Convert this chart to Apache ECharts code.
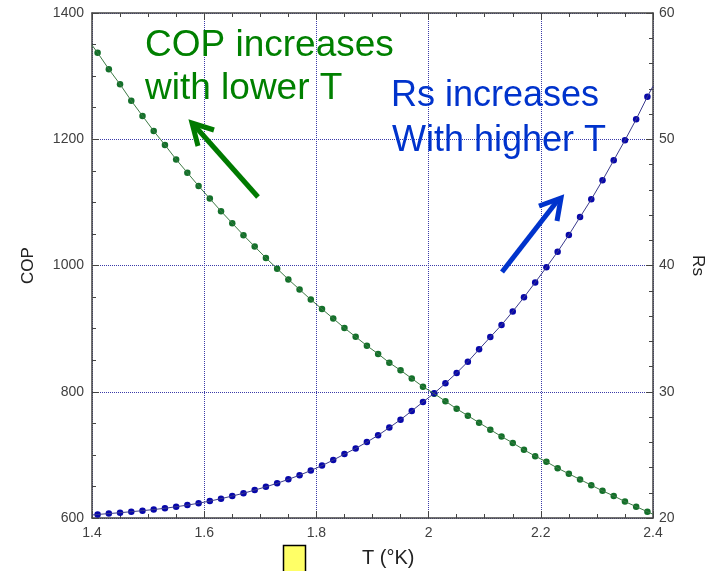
<!DOCTYPE html>
<html>
<head>
	<meta charset="UTF-8">
	<title>COP and Rs vs T</title>
	<script src="https://cdn.jsdelivr.net/npm/echarts@6/dist/echarts.min.js"></script>
</head>
<body style="margin:0;background:#fff;">
	<div id="main" style="width:716px;height:571px;"></div>
	<script>
		// temperature of the plotted dots (K)
		var tDots = [1.41, 1.43, 1.45, 1.47, 1.49, 1.51, 1.53, 1.55, 1.57, 1.59,
			1.61, 1.63, 1.65, 1.67, 1.69, 1.71, 1.73, 1.75, 1.77, 1.79,
			1.81, 1.83, 1.85, 1.87, 1.89, 1.91, 1.93, 1.95, 1.97, 1.99,
			2.01, 2.03, 2.05, 2.07, 2.09, 2.11, 2.13, 2.15, 2.17, 2.19,
			2.21, 2.23, 2.25, 2.27, 2.29, 2.31, 2.33, 2.35, 2.37, 2.39];
		var copDots = [1337, 1311, 1287, 1261, 1237, 1213, 1191, 1168, 1147, 1126,
			1106, 1086, 1067, 1048, 1030, 1012, 995, 978, 962, 946,
			931, 916, 901, 887, 873, 860, 846, 834, 821, 808,
			797, 785, 773, 762, 751, 740, 729, 719, 708, 698,
			689, 679, 670, 661, 652, 643, 635, 626, 618, 610];
		var rsDots = [20.28, 20.35, 20.42, 20.50, 20.58, 20.67, 20.77, 20.89, 21.02, 21.17,
			21.34, 21.53, 21.74, 21.96, 22.21, 22.47, 22.75, 23.06, 23.39, 23.76,
			24.15, 24.59, 25.06, 25.51, 26.01, 26.55, 27.16, 27.79, 28.48, 29.19,
			29.88, 30.67, 31.49, 32.38, 33.36, 34.33, 35.29, 36.36, 37.48, 38.66,
			39.86, 41.09, 42.42, 43.84, 45.24, 46.75, 48.33, 49.92, 51.58, 53.37];
		// the thin curves run to the frame edges
		var tEnds = [1.4, 2.4];
		var copEnds = [1349, 606];
		var rsEnds = [20.24, 54.2];

		var pairs = function(xs, ys) {
			var res = [];
			for (var i = 0; i < xs.length; i++) {
				res.push([xs[i], ys[i]]);
			}
			return res;
		};
		var curve = function(ys, ends) {
			return [[tEnds[0], ends[0]]].concat(pairs(tDots, ys)).concat([[tEnds[1], ends[1]]]);
		};

		var axisColor = '#444';
		var gridColor = '#3a3aa8';
		var labelStyle = {
			color: '#404040', fontSize: 14, fontFamily: 'Liberation Sans',
			formatter: function(v) { return String(v); }
		};

		var myChart = echarts.init(document.getElementById('main'));
		var option = {
			animation: false,
			backgroundColor: '#fff',
			grid: { left: 92, right: 63, top: 13, bottom: 53 },
			xAxis: [{
				type: 'value', position: 'bottom', min: 1.4, max: 2.4, interval: 0.2,
				axisLine: { lineStyle: { color: axisColor, width: 1.5 } },
				axisTick: { inside: true, length: 7, lineStyle: { color: axisColor } },
				minorTick: { show: true, splitNumber: 4, length: 4, lineStyle: { color: axisColor } },
				axisLabel: Object.assign({ margin: 8 }, labelStyle),
				splitLine: { show: true, lineStyle: { color: gridColor, type: 'dotted', width: 1 } }
			}, {
				type: 'value', position: 'top', min: 1.4, max: 2.4, interval: 0.2,
				axisLine: { lineStyle: { color: axisColor, width: 1.5 } },
				axisTick: { inside: true, length: 7, lineStyle: { color: axisColor } },
				minorTick: { show: true, splitNumber: 4, length: 4, lineStyle: { color: axisColor } },
				axisLabel: { show: false },
				splitLine: { show: false }
			}],
			yAxis: [{
				type: 'value', position: 'left', min: 600, max: 1400, interval: 200,
				name: 'COP', nameLocation: 'middle', nameGap: 55,
				nameTextStyle: { color: '#222', fontSize: 17, fontFamily: 'Liberation Sans' },
				axisLine: { show: true, lineStyle: { color: axisColor, width: 1.5 } },
				axisTick: { show: true, inside: true, length: 7, lineStyle: { color: axisColor } },
				minorTick: { show: true, splitNumber: 4, length: 4, lineStyle: { color: axisColor } },
				axisLabel: Object.assign({ margin: 8 }, labelStyle),
				splitLine: { show: true, lineStyle: { color: gridColor, type: 'dotted', width: 1 } }
			}, {
				type: 'value', position: 'right', min: 20, max: 60, interval: 10,
				name: 'Rs', nameLocation: 'middle', nameGap: 36, nameRotate: -90,
				nameTextStyle: { color: '#222', fontSize: 17, fontFamily: 'Liberation Sans' },
				axisLine: { show: true, lineStyle: { color: axisColor, width: 1.5 } },
				axisTick: { show: true, inside: true, length: 7, lineStyle: { color: axisColor } },
				minorTick: { show: true, splitNumber: 5, length: 4, lineStyle: { color: axisColor } },
				axisLabel: Object.assign({ margin: 6 }, labelStyle),
				splitLine: { show: false }
			}],
			series: [{
				name: 'COP line', type: 'line', xAxisIndex: 0, yAxisIndex: 0,
				data: curve(copDots, copEnds), showSymbol: false,
				lineStyle: { color: '#3d7a45', width: 1 }
			}, {
				name: 'COP', type: 'scatter', xAxisIndex: 0, yAxisIndex: 0,
				data: pairs(tDots, copDots), symbolSize: 6.5,
				itemStyle: { color: '#13702a', opacity: 1 }
			}, {
				name: 'Rs line', type: 'line', xAxisIndex: 0, yAxisIndex: 1,
				data: curve(rsDots, rsEnds), showSymbol: false,
				lineStyle: { color: '#3a3a8c', width: 1 }
			}, {
				name: 'Rs', type: 'scatter', xAxisIndex: 0, yAxisIndex: 1,
				data: pairs(tDots, rsDots), symbolSize: 6.5,
				itemStyle: { color: '#0808aa', opacity: 1 }
			}],
			graphic: [
				{ type: 'text', x: 145, y: 46, z: 10, style: { text: 'COP increases', fill: '#008000', font: '37px "Liberation Sans"', verticalAlign: 'middle' } },
				{ type: 'text', x: 145, y: 89, z: 10, style: { text: 'with lower T', fill: '#008000', font: '37px "Liberation Sans"', verticalAlign: 'middle' } },
				{ type: 'text', x: 391, y: 96, z: 10, style: { text: 'Rs increases', fill: '#0033cc', font: '36px "Liberation Sans"', verticalAlign: 'middle' } },
				{ type: 'text', x: 392, y: 141, z: 10, style: { text: 'With higher T', fill: '#0033cc', font: '36px "Liberation Sans"', verticalAlign: 'middle' } },
				{ type: 'polyline', z: 10, shape: { points: [[258, 197], [194, 125]] }, style: { stroke: '#007a00', lineWidth: 5, fill: null } },
				{ type: 'polyline', z: 10, shape: { points: [[214, 130], [192, 123], [198, 146]] }, style: { stroke: '#007a00', lineWidth: 5, fill: null } },
				{ type: 'polyline', z: 10, shape: { points: [[502, 272], [558, 200]] }, style: { stroke: '#0033cc', lineWidth: 5, fill: null } },
				{ type: 'polyline', z: 10, shape: { points: [[539, 206], [561, 198], [557, 221]] }, style: { stroke: '#0033cc', lineWidth: 5, fill: null } },
				{ type: 'text', x: 362, y: 558, style: { text: 'T (°K)', fill: '#222', font: '20px "Liberation Sans"', verticalAlign: 'middle' } },
				{ type: 'rect', shape: { x: 283.5, y: 545.5, width: 22, height: 30 }, style: { fill: '#ffff66', stroke: '#000', lineWidth: 1.5 } }
			]
		};
		myChart.setOption(option);
	</script>
</body>
</html>
